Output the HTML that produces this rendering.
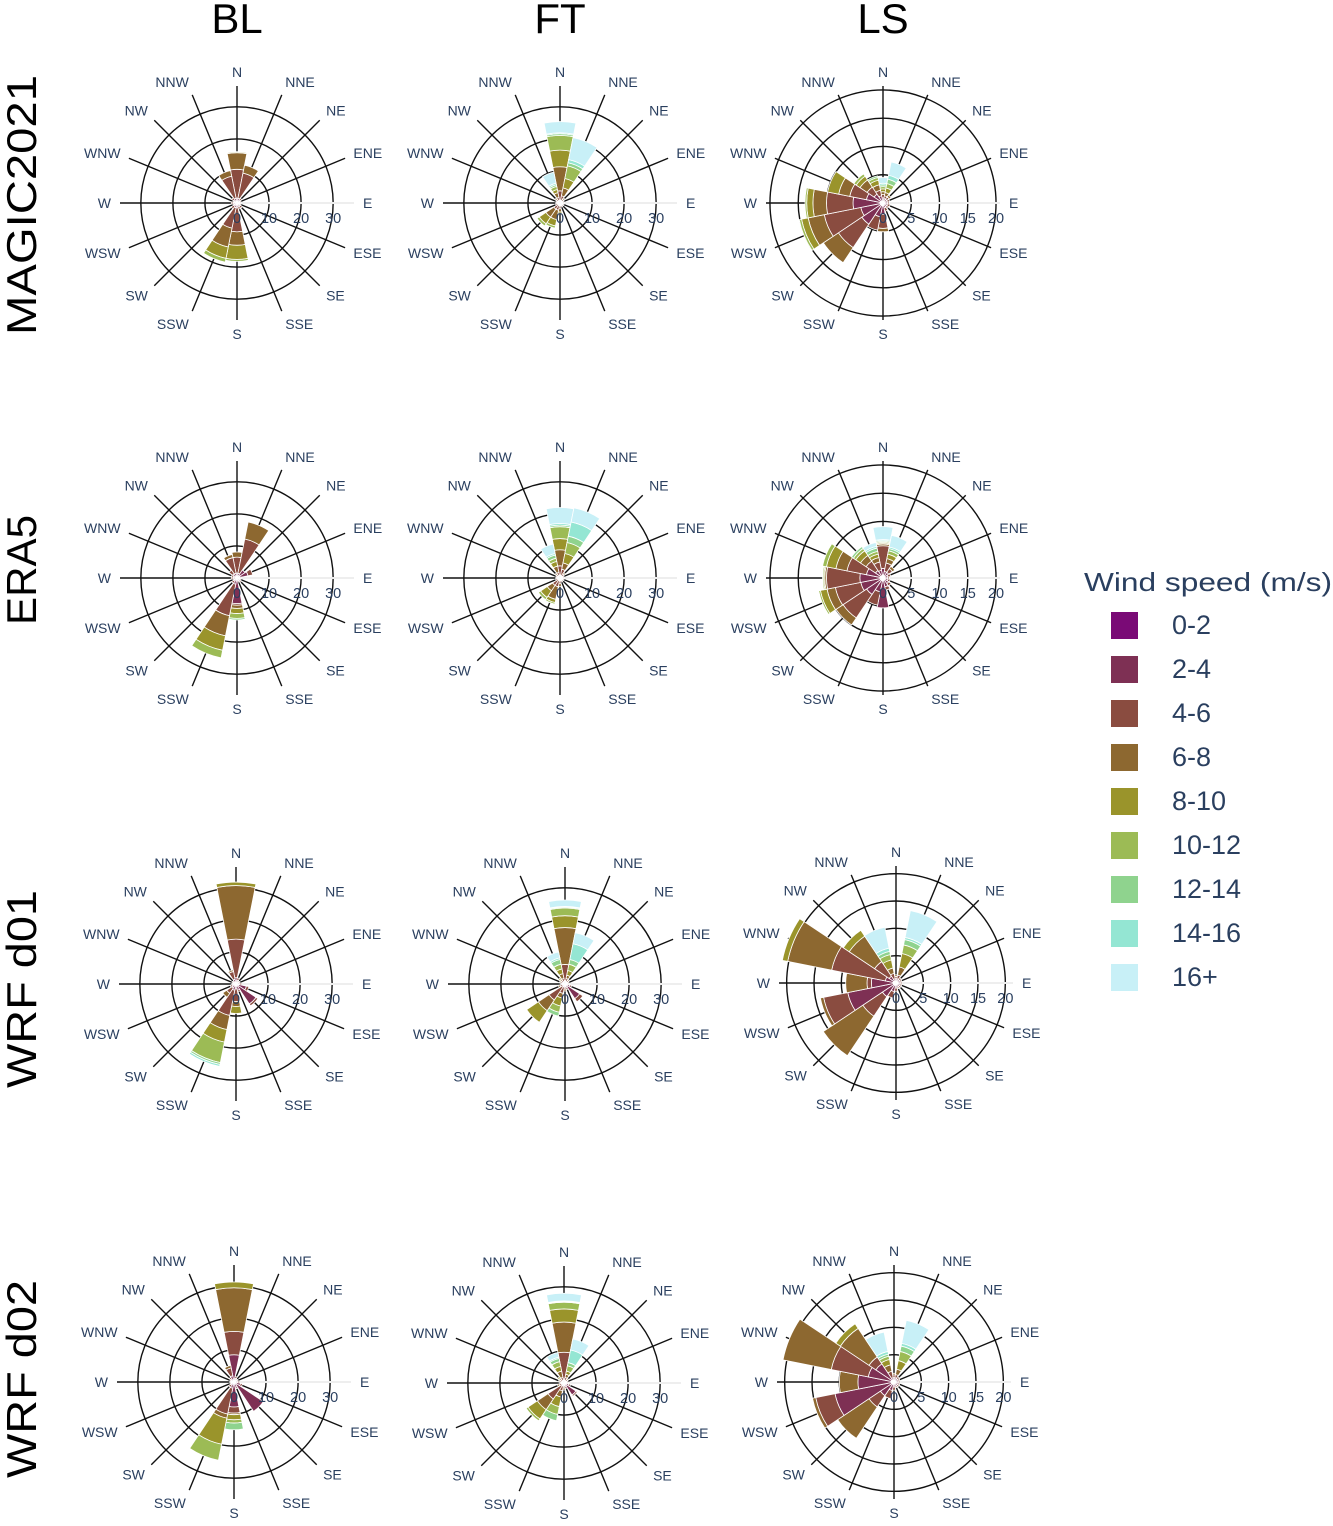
<!DOCTYPE html>
<html><head><meta charset="utf-8"><style>
html,body{margin:0;padding:0;background:#fff;}
svg{display:block;font-family:"Liberation Sans",sans-serif;}
</style></head><body>
<svg id="chart" width="1333" height="1526" viewBox="0 0 1333 1526" xmlns="http://www.w3.org/2000/svg"></svg>
<script>
// ---- data ----
const directions = ["N","NNE","NE","ENE","E","ESE","SE","SSE","S","SSW","SW","WSW","W","WNW","NW","NNW"];
const speedBins = ["0-2","2-4","4-6","6-8","8-10","10-12","12-14","14-16","16+"];
const binColors = ["#7a0a76","#7e3054","#8a4c40","#8d6830","#9a942b","#9cbb55","#8fd38e","#94e6d3","#c8f0f7"];
const rowNames = ["MAGIC2021","ERA5","WRF d01","WRF d02"];
const colNames = ["BL","FT","LS"];
const sm = [0.3,0.6,0.4], sl = [0.3,0.5,0.3];
const magicBL = [[0.5,1,9,5.2,0.3],[0.5,1,8,2.5],[0.4,0.8,0.6],sm,sm,sm,[0.4,0.8,0.8],[0.4,0.8,0.8],[0.5,1,7.5,4.2,4.4,0.6],[0.5,1,6.5,6,3.6,1.2],[0.4,0.8,1],sm,[0.4,0.8,0.6],sm,[0.4,0.8,0.8],[0.5,1,7,1.8]];
const magicFT = [[0.3,0.5,3,7.5,5.2,4.6,0.5,0.3,3.5],[0.3,0.5,1.5,2.5,3,4,1,1,7],[0.3,0.5,0.6,0.5],sm,sm,sm,sm,sm,[0.3,0.5,1,1,0.5],[0.3,0.5,1.5,3,2,0.7],[0.3,0.5,1.5,3,2.5,0.8],[0.3,0.5,0.6],sm,sm,[0.3,0.5,0.6,0.5],[0.3,0.5,1,1.5,1,1,0.5,0.5,3.5]];
const magicLS = [[0.3,0.6,0.6,0.5,0.5,0.4,0.3,0.3,1],[0.3,0.5,0.5,0.6,0.8,0.8,0.8,0.7,2.4],[0.3,0.5,0.5,0.4],[0.3,0.5,0.4],sl,[0.3,0.5,0.5],[0.3,0.5,0.4],[0.3,0.6,0.6],[0.5,1.5,2.5,0.6],[0.5,2,2.4],[0.5,4,5,3.2],[0.5,3.5,6.6,2.9,1.2,0.4],[0.5,4.8,4.7,2.4,1.1,0.3],[0.5,2.5,3,2,2],[0.4,1.5,1.5,1.5,0.8,0.5],[0.3,1,1,1,0.8,0.5,0.3]];
const eraBL = [[0.5,1,5,1.6],[0.5,1,10.9,5.4],[1,2],[1,2.5,1.5],sm,sm,[0.4,0.8,0.5],sm,[0.5,7.5,0.5,1,1.6,1.5,0.5],[0.5,1.5,10,6.4,4.6,2.4],[0.4,0.8,0.8],sm,[0.4,0.8,0.6],[0.4,0.8,0.6],[0.5,1,1.5],[0.5,1,5,1]];
const eraFT = [[0.3,0.5,3,5,3.5,3.7,0.5,0.5,5],[0.3,0.5,2,2,3,3.5,2,4.5,4.5],[0.3,0.5,0.8,0.5],sm,sm,sm,sm,sm,[0.3,0.5,1,0.8],[0.3,0.5,2,4,1,0.5],[0.3,0.5,2,2,2.5,0.8],[0.3,0.5,0.6],sm,sm,[0.3,0.5,0.6,0.5],[0.3,0.5,1,2,1.5,1,1,0.5,3]];
const eraLS = [[0.5,1.2,4,0.3,0.2,0.2,0.2,0.2,2.3],[0.4,0.8,1.5,0.8,0.8,0.6,0.4,0.3,2.1],[0.4,0.8,0.8,0.5],[0.3,0.6,0.5],sl,[0.3,0.6,0.4],[0.4,0.8,0.5],[0.4,1.2,0.6],[0.5,4.8],[0.5,2,2.4],[0.5,3,5,1.5],[0.5,3.5,4.6,1.5,1.2,0.3],[0.5,3.6,5.9,0.3,0.2,0.2],[0.5,2.5,3.5,2,1.7,0.7],[0.4,1.2,2,1.2,1,0.5,0.4],[0.4,1,1.5,0.8,0.6,0.5,0.6,0.3,0.7]];
const d01BL = [[0.5,1.5,12,16.7,1.1],[0.4,0.8,0.8],sm,sm,[0.4,0.8,0.6],[0.8,2.5,0.8],[1,6.5,0.7],[0.5,1.5,0.5],[0.5,1,4,1.5,2.2],[0.5,1.5,8,4.5,4,6.5,0.6,0.6],[0.5,1,2,1.5],[0.4,0.8,0.6],sm,sm,sm,[0.5,1,2.5,0.5]];
const d01FT = [[0.3,0.8,5,11.5,3.7,2.4,0.3,0.2,2],[0.3,0.5,1,1,1.5,2,1.5,5,3.5],[0.3,0.5,0.6,0.4],sm,sm,[0.5,1,0.6],[1,4.5,1.2],[0.4,0.8,0.6],[0.3,0.5,0.8,0.6],[0.3,0.7,2,1.5,2.5,2,1.2],[0.3,0.7,5,4,4.4],[0.3,0.5,0.8,0.5],sm,[0.3,0.5,0.6,0.4],[0.3,0.5,0.6,0.5,0.5],[0.3,0.5,1,1.5,1.5,1.5,1.5,0.5,1.9]];
const d01LS = [[0.3,0.5,0.4,0.3],[0.3,0.5,0.7,1.5,2.5,1.6,1,0.4,5],[0.3,0.5,0.4],sl,sl,sl,sl,sl,[0.3,0.6,0.6],[0.4,1.2,1.2],[0.5,2.5,4.3,8.7],[0.5,8.5,4.5,0.6],[0.5,4,0.8,3.9],[0.5,1.5,10,8.2,1],[0.5,1,3.2,5.6,1.3],[0.3,0.5,1,1,1.5,1,0.6,0.6,3.9]];
const d02BL = [[0.5,8,7.3,13.6,1.8],[0.4,0.8,0.6],sm,sm,[0.4,0.8,0.6],[0.6,1.5,0.6],[1,10],[0.5,1.2,0.5],[0.5,7.3,1.9,0.5,1.6,1,2.1],[0.5,1.5,8.2,1.3,8.3,5.1],[0.4,0.8,0.8],sm,sm,sm,[0.4,0.8,0.6],[0.5,1.5,2.5,0.8]];
const d02FT = [[0.3,1,8.3,9.4,4.1,2.1,0.2,0.2,2.4],[0.3,0.5,1,1,1,1.7,1,4,3.5],[0.3,0.5,0.6,0.4],sm,sm,[0.5,1,0.6],[1,3.5,0.5],[0.4,0.8,0.6],[0.3,0.5,0.8,0.6],[0.3,0.7,1.5,2,3,2.5,2],[0.3,0.7,5,4,3.5,0.7],[0.3,0.5,0.8,0.5],sm,[0.3,0.5,0.6,0.4],[0.3,0.5,0.6,0.5,0.5],[0.3,0.5,1,2,1.5,1.5,1,0.4,1.5]];
const d02LS = [[0.3,0.5,0.5,0.3],[0.3,0.5,0.6,1,1.6,1.7,1,0.5,4.3],[0.3,0.5,0.4],sl,sl,sl,sl,sl,[0.3,0.6,0.6],[0.4,1.2,1.5],[0.5,2.5,2.5,6.9],[0.5,10.5,3.6,0.6],[0.5,6.1,0,3.4],[0.5,4.3,6.9,9],[0.5,3.5,1.5,6.3,1],[0.3,0.5,1.2,1.2,1,0.6,0.4,0.5,3.6]];
const roses = [[magicBL,magicFT,magicLS],[eraBL,eraFT,eraLS],[d01BL,d01FT,d01LS],[d02BL,d02FT,d02LS]];
const wideTicks = [0,10,20,30];
const lsTicks = [0,5,10,15,20];

// ---- layout ----
const NS = "http://www.w3.org/2000/svg";
const svg = document.getElementById("chart");
const centers = [[[237,203],[560,203],[883,203]],[[237,578],[560,578],[883,578]],[[236,984],[565,984],[896,983]],[[234,1382],[564,1383],[894,1382]]];
const rowY = [205,570,989,1379];
const rowLen = [260,110,198,198];
const OUT = 117;
function mk(tag, attrs, parent){const e=document.createElementNS(NS,tag);for(const k in attrs)e.setAttribute(k,attrs[k]);(parent||svg).appendChild(e);return e;}
function pt(cx,cy,r,deg){const a=deg*Math.PI/180;return [cx+r*Math.sin(a),cy-r*Math.cos(a)];}

colNames.forEach((n,i)=>{
  const t=mk("text",{x:centers[0][i][0],y:33,"text-anchor":"middle","font-size":42,fill:"#000"});
  
  
  t.textContent=n;
});
rowNames.forEach((n,i)=>{
  const t=mk("text",{x:0,y:0,"text-anchor":"middle","font-size":42,fill:"#000",textLength:rowLen[i],lengthAdjust:"spacingAndGlyphs",transform:`translate(36,${rowY[i]}) rotate(-90)`});
  
  
  t.textContent=n;
});

roses.forEach((row,ri)=>row.forEach((data,ci)=>{
  const [cx,cy]=centers[ri][ci];
  const isLS = ci===2;
  const rmax = isLS ? (ri<2?20.7:21.4) : 36.5;
  const sc = OUT/rmax;
  const ticks = isLS ? lsTicks : wideTicks;
  const g=mk("g",{});
  
  
  ticks.slice(1).forEach(v=>{
    const c=mk("circle",{cx,cy,r:v*sc,fill:"none",stroke:"#111","stroke-width":1.4},g);
    
    
  });
  const ax=mk("line",{x1:cx,y1:cy,x2:cx+OUT,y2:cy,stroke:"#eeeeee","stroke-width":2},g);
  
  
  directions.forEach((d,di)=>{
    if(di===4) return;
    const [x2,y2]=pt(cx,cy,OUT,di*22.5);
    const l=mk("line",{x1:cx,y1:cy,x2,y2,stroke:"#111","stroke-width":1.4},g);
    
    
  });
  data.forEach((bins,di)=>{
    let r0=0;
    bins.forEach((v,bi)=>{
      if(v<=0) return;
      const r1=r0+v;
      const a0=di*22.5-11.25, a1=di*22.5+11.25;
      const p1=pt(cx,cy,r0*sc,a0),p2=pt(cx,cy,r1*sc,a0),p3=pt(cx,cy,r1*sc,a1),p4=pt(cx,cy,r0*sc,a1);
      const R1=r1*sc,R0=r0*sc;
      const p=mk("path",{d:`M${p1[0]},${p1[1]}L${p2[0]},${p2[1]}A${R1},${R1} 0 0 1 ${p3[0]},${p3[1]}L${p4[0]},${p4[1]}A${R0},${R0} 0 0 0 ${p1[0]},${p1[1]}Z`,fill:binColors[bi],stroke:"#fff","stroke-width":0.8},g);
      
      
      r0=r1;
    });
  });
  ticks.forEach(v=>{
    const t=mk("text",{x:cx+v*sc,y:cy+20,"text-anchor":"middle","font-size":14.5,fill:"#2a3f5f"},g);
    
    
    t.textContent=v;
  });
  directions.forEach((d,di)=>{
    const ang=di*22.5*Math.PI/180;
    const s=Math.sin(ang), c=Math.cos(ang);
    const [x,y]=pt(cx,cy,124,di*22.5);
    const anchor = Math.abs(s)<0.2 ? "middle" : (s>0 ? "start" : "end");
    const t=mk("text",{x:x+(anchor==="middle"?0:s*2),y:y+5-c*7,"text-anchor":anchor,"font-size":14,fill:"#2a3f5f"},g);
    
    
    t.textContent=d;
  });
}));

const lg=mk("g",{});


const lt=mk("text",{x:1084,y:591,"font-size":26,fill:"#2a3f5f",textLength:248,lengthAdjust:"spacingAndGlyphs"},lg);


lt.textContent="Wind speed (m/s)";
speedBins.forEach((b,i)=>{
  const y=625+i*44;
  const r=mk("rect",{x:1111,y:y-13,width:27,height:27,fill:binColors[i]},lg);
  
  
  const t=mk("text",{x:1172,y:y+9,"font-size":27,fill:"#2a3f5f"},lg);
  
  
  t.textContent=b;
});
</script>
</body></html>
